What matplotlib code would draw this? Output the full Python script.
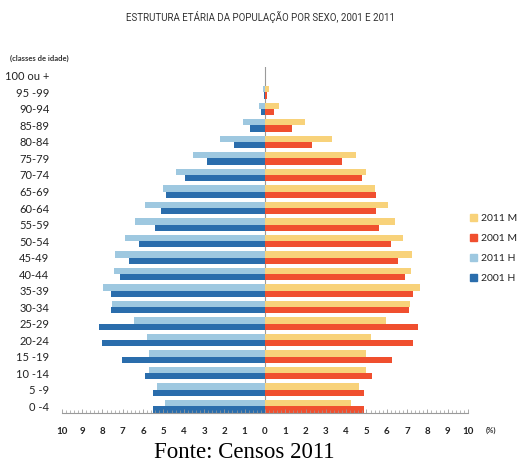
import numpy as np
import matplotlib
matplotlib.use("Agg")
import matplotlib.pyplot as plt
from matplotlib.patches import Patch
from matplotlib.ticker import MultipleLocator, FuncFormatter

plt.rcParams['font.family'] = ['Lato', 'DejaVu Sans']

# Age classes, bottom to top
classes = ["0 -4", "5 -9", "10 -14", "15 -19", "20-24", "25-29", "30-34",
           "35-39", "40-44", "45-49", "50-54", "55-59", "60-64", "65-69",
           "70-74", "75-79", "80-84", "85-89", "90-94", "95 -99", "100 ou +"]

# Share of the population (%)
homens_2011 = [4.90, 5.34, 5.72, 5.72, 5.82, 6.44, 7.51, 7.97, 7.43, 7.36, 6.87,
               6.39, 5.92, 5.01, 4.37, 3.56, 2.23, 1.10, 0.31, 0.08, 0.01]
homens_2001 = [5.52, 5.51, 5.93, 7.04, 8.00, 8.18, 7.60, 7.58, 7.15, 6.67, 6.20,
               5.39, 5.11, 4.88, 3.93, 2.87, 1.51, 0.72, 0.20, 0.03, 0.00]
mulheres_2011 = [4.26, 4.62, 4.98, 4.98, 5.21, 5.98, 7.14, 7.64, 7.21, 7.23, 6.80,
                 6.42, 6.08, 5.40, 5.00, 4.50, 3.32, 1.96, 0.67, 0.18, 0.02]
mulheres_2001 = [4.90, 4.88, 5.26, 6.28, 7.28, 7.54, 7.11, 7.29, 6.90, 6.55, 6.19,
                 5.62, 5.49, 5.47, 4.80, 3.79, 2.32, 1.33, 0.45, 0.08, 0.01]

series_labels = ["2011 M", "2001 M", "2011 H", "2001 H"]
c_m11, c_m01, c_h11, c_h01 = "#f8d27a", "#f04f2f", "#9ec8e0", "#2a6dac"

fig = plt.figure(figsize=(5.2, 4.66), dpi=100)
ax = fig.add_axes([0.119, 0.1144, 0.781, 0.7426])

y = np.arange(len(classes))
h = 0.38
ax.barh(y + h / 2, -np.array(homens_2011), height=h, color=c_h11, linewidth=0)
ax.barh(y - h / 2, -np.array(homens_2001), height=h, color=c_h01, linewidth=0)
ax.barh(y + h / 2, mulheres_2011, height=h, color=c_m11, linewidth=0)
ax.barh(y - h / 2, mulheres_2001, height=h, color=c_m01, linewidth=0)
ax.axvline(0, color="#9a9a9a", linewidth=0.8, zorder=0)

ax.set_xlim(-10, 10)
ax.set_ylim(-0.39, 20.56)

for s in ["top", "right", "left"]:
    ax.spines[s].set_visible(False)
ax.spines["bottom"].set_color("#9a9a9a")
ax.spines["bottom"].set_linewidth(0.8)

ax.set_yticks(y)
ax.set_yticklabels(classes, fontsize=8, color="#222222")
ax.tick_params(axis="y", length=0, pad=9)

ax.xaxis.set_major_locator(MultipleLocator(1))
ax.xaxis.set_minor_locator(MultipleLocator(0.2))
ax.xaxis.set_major_formatter(FuncFormatter(lambda v, p: "%d" % abs(v)))
ax.tick_params(axis="x", which="major", direction="in", length=3, width=0.6,
               color="#9a9a9a", labelsize=7, pad=10, labelcolor="#222222")
ax.tick_params(axis="x", which="minor", direction="in", length=2, width=0.5,
               color="#9a9a9a")
for lbl in ax.get_xticklabels():
    lbl.set_fontweight("bold")

fig.text(0.944, 0.077, "(%)", fontsize=5.5, fontweight="bold", color="#333333",
         ha="center", va="center")

fig.text(0.5, 0.963, "ESTRUTURA ETÁRIA DA POPULAÇÃO POR SEXO, 2001 E 2011",
         family="Roboto", fontsize=7, color="#333333", ha="center", va="center")
fig.text(0.019, 0.875, "(classes de idade)", fontsize=5.5, fontweight="bold",
         color="#333333", ha="left", va="center")

handles = [Patch(color=c) for c in (c_m11, c_m01, c_h11, c_h01)]
fig.legend(handles, series_labels, loc="upper left",
           bbox_to_anchor=(0.893, 0.553), frameon=False, fontsize=7.5,
           handlelength=0.7, handleheight=0.7, handletextpad=0.35,
           labelspacing=1.05, borderpad=0, labelcolor="#222222")

fig.text(0.47, 0.006, "Fonte: Censos 2011", family="Liberation Serif",
         fontsize=16.5, color="black", ha="center", va="bottom")

fig.savefig("out.png", dpi=100)
